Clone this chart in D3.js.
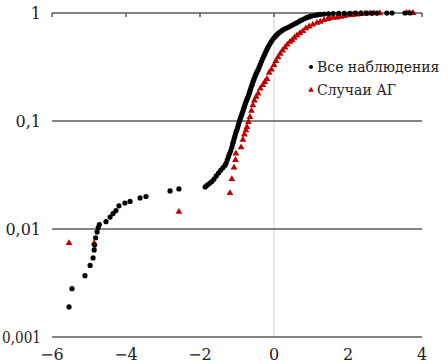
<!DOCTYPE html>
<html>
<head>
<meta charset="utf-8">
<script src="https://cdn.jsdelivr.net/npm/d3@7"></script>
<style>
  body { margin: 0; background: #fff; }
</style>
</head>
<body>
<svg id="chart" width="448" height="364"></svg>
<script>
// все наблюдения: [z, накопленная доля]
const allObs = [
  [-5.54, 0.0019], [-5.46, 0.0028], [-5.11, 0.0037], [-4.97, 0.0046], [-4.89, 0.0054],
  [-4.86, 0.0064], [-4.85, 0.0071], [-4.82, 0.0083], [-4.78, 0.0094], [-4.75, 0.0103],
  [-4.72, 0.011], [-4.54, 0.0117], [-4.43, 0.0129], [-4.35, 0.0139], [-4.27, 0.0148],
  [-4.19, 0.0164], [-4.03, 0.0174], [-3.89, 0.018], [-3.62, 0.0194], [-3.46, 0.020],
  [-2.81, 0.0225], [-2.57, 0.0235],
  [-1.86, 0.0245], [-1.80, 0.0255], [-1.74, 0.0265], [-1.68, 0.0275], [-1.62, 0.029],
  [-1.56, 0.031], [-1.50, 0.033], [-1.44, 0.035], [-1.38, 0.037], [-1.32, 0.039],
  [-1.29, 0.041], [-1.26, 0.044], [-1.23, 0.047], [-1.20, 0.050], [-1.17, 0.053],
  [-1.14, 0.057], [-1.12, 0.061], [-1.10, 0.064], [-1.08, 0.068], [-1.06, 0.072],
  [-1.04, 0.076], [-1.02, 0.080], [-1.00, 0.083], [-0.98, 0.088], [-0.96, 0.093],
  [-0.94, 0.098], [-0.92, 0.103], [-0.90, 0.108], [-0.88, 0.113], [-0.86, 0.118],
  [-0.84, 0.124], [-0.82, 0.130], [-0.80, 0.136], [-0.78, 0.143], [-0.76, 0.150],
  [-0.74, 0.156], [-0.72, 0.162], [-0.70, 0.168], [-0.68, 0.176], [-0.66, 0.185],
  [-0.64, 0.194], [-0.62, 0.204], [-0.60, 0.214], [-0.58, 0.224], [-0.56, 0.234],
  [-0.54, 0.244], [-0.52, 0.255], [-0.50, 0.265], [-0.48, 0.275], [-0.46, 0.285],
  [-0.43, 0.298], [-0.40, 0.315], [-0.37, 0.335], [-0.34, 0.355], [-0.31, 0.375],
  [-0.28, 0.395], [-0.25, 0.415], [-0.22, 0.44], [-0.19, 0.46], [-0.16, 0.484],
  [-0.12, 0.51], [-0.08, 0.54], [-0.04, 0.565], [0.00, 0.59], [0.04, 0.61],
  [0.08, 0.63], [0.12, 0.65], [0.17, 0.67], [0.22, 0.69], [0.28, 0.71],
  [0.34, 0.725], [0.40, 0.74], [0.46, 0.76], [0.52, 0.78], [0.58, 0.80],
  [0.64, 0.82], [0.70, 0.845], [0.76, 0.865], [0.82, 0.885], [0.88, 0.905],
  [0.94, 0.92], [1.00, 0.935], [1.08, 0.948], [1.16, 0.96], [1.25, 0.97],
  [1.35, 0.977], [1.47, 0.983], [1.60, 0.987], [1.75, 0.99], [1.90, 0.992],
  [2.05, 0.994], [2.20, 0.996], [2.35, 0.997], [2.50, 0.998], [2.65, 0.998],
  [2.78, 0.999], [3.05, 0.999], [3.19, 1], [3.54, 1], [3.68, 1]
]

// случаи АГ
const agCases = [
  [-5.54, 0.0074], [-4.86, 0.0074], [-2.57, 0.0144], [-1.19, 0.0215], [-1.14, 0.029],
  [-1.08, 0.037], [-1.04, 0.0436], [-1.03, 0.050], [-0.89, 0.057],
  [-0.84, 0.067], [-0.80, 0.075], [-0.76, 0.082], [-0.73, 0.088], [-0.69, 0.098],
  [-0.65, 0.109], [-0.61, 0.124], [-0.57, 0.14], [-0.53, 0.155], [-0.48, 0.168],
  [-0.43, 0.18], [-0.37, 0.20], [-0.30, 0.215], [-0.25, 0.23], [-0.19, 0.245],
  [-0.13, 0.28], [-0.07, 0.30], [0.00, 0.33], [0.05, 0.36], [0.11, 0.39],
  [0.17, 0.42], [0.23, 0.45], [0.30, 0.48], [0.36, 0.51], [0.43, 0.54],
  [0.49, 0.56], [0.55, 0.59], [0.62, 0.62], [0.70, 0.65], [0.78, 0.68],
  [0.86, 0.72], [0.95, 0.75], [1.05, 0.78], [1.16, 0.81], [1.25, 0.83],
  [1.35, 0.86], [1.45, 0.88], [1.51, 0.90], [1.60, 0.905], [1.70, 0.91],
  [1.80, 0.92], [1.90, 0.935], [2.00, 0.95], [2.12, 0.96], [2.24, 0.97],
  [2.35, 0.98], [2.45, 0.985], [2.59, 0.99], [2.70, 0.993], [2.86, 0.995],
  [3.59, 1], [3.65, 1], [3.76, 1]
]

const xTicks = [-6, -4, -2, 0, 2, 4]
const yTicks = [1, 0.1, 0.01, 0.001]
const yTickLabels = ['1', '0,1', '0,01', '0,001']
const legendNames = ['Все наблюдения', 'Случаи АГ']

const FONT = 'DejaVu Serif, serif'

const svg = d3.select('#chart')
const width = 448
const height = 364
const margin = { top: 13, right: 26, bottom: 27, left: 52 }
const innerW = width - margin.left - margin.right
const innerH = height - margin.top - margin.bottom

const x = d3.scaleLinear().domain([-6, 4]).range([0, innerW])
const y = d3.scaleLog().domain([0.001, 1]).range([innerH, 0])

const g = svg.append('g').attr('transform', `translate(${margin.left},${margin.top})`)

// vertical line at 0
g.append('line')
  .attr('x1', x(0)).attr('x2', x(0))
  .attr('y1', 0).attr('y2', innerH)
  .attr('stroke', '#d4d4d4').attr('stroke-width', 1)

// horizontal grid
g.selectAll('.grid')
  .data(yTicks)
  .enter()
  .append('line')
  .attr('class', 'grid')
  .attr('x1', 0).attr('x2', innerW)
  .attr('y1', d => y(d)).attr('y2', d => y(d))
  .attr('stroke', '#5a5a5a').attr('stroke-width', 1.5)

// tick marks on the top line (axis crosses at 1)
g.selectAll('.xtick')
  .data(xTicks)
  .enter()
  .append('line')
  .attr('x1', d => x(d)).attr('x2', d => x(d))
  .attr('y1', y(1)).attr('y2', y(1) + 4)
  .attr('stroke', '#5a5a5a').attr('stroke-width', 1.5)

// y labels
g.selectAll('.ylab')
  .data(yTicks)
  .enter()
  .append('text')
  .attr('x', -11)
  .attr('y', d => y(d))
  .attr('dy', '0.35em')
  .attr('text-anchor', 'end')
  .attr('font-family', FONT)
  .attr('font-size', 16)
  .attr('fill', '#222')
  .each(function (d, i) {
    const t = d3.select(this).text(yTickLabels[i])
    if (yTickLabels[i].length > 4) t.attr('textLength', 39).attr('lengthAdjust', 'spacingAndGlyphs')
  })

// x labels
g.selectAll('.xlab')
  .data(xTicks)
  .enter()
  .append('text')
  .attr('x', d => x(d))
  .attr('y', innerH + 23)
  .attr('text-anchor', 'middle')
  .attr('font-family', FONT)
  .attr('font-size', 16)
  .attr('fill', '#222')
  .text(d => d < 0 ? '\u2212' + Math.abs(d) : d)

const tri = d3.symbol().type(d3.symbolTriangle).size(20)

// red triangles
g.selectAll('.ag')
  .data(agCases)
  .enter()
  .append('path')
  .attr('class', 'ag')
  .attr('d', tri)
  .attr('transform', d => `translate(${x(d[0])},${y(d[1])})`)
  .attr('fill', '#c00000')

// black dots
g.selectAll('.all')
  .data(allObs)
  .enter()
  .append('circle')
  .attr('class', 'all')
  .attr('cx', d => x(d[0]))
  .attr('cy', d => y(d[1]))
  .attr('r', 2.6)
  .attr('fill', '#000')

// legend
const legend = svg.append('g').attr('transform', 'translate(311, 67)')
legend.append('circle').attr('cx', 0).attr('cy', 0).attr('r', 2).attr('fill', '#000')
legend.append('text').attr('x', 6).attr('y', 5).attr('font-family', FONT).attr('font-size', 14)
  .attr('fill', '#222').text(legendNames[0])
legend.append('path').attr('d', d3.symbol().type(d3.symbolTriangle).size(14))
  .attr('transform', 'translate(0,23)').attr('fill', '#c00000')
legend.append('text').attr('x', 6).attr('y', 28).attr('font-family', FONT).attr('font-size', 14)
  .attr('fill', '#222').text(legendNames[1])
</script>
</body>
</html>
